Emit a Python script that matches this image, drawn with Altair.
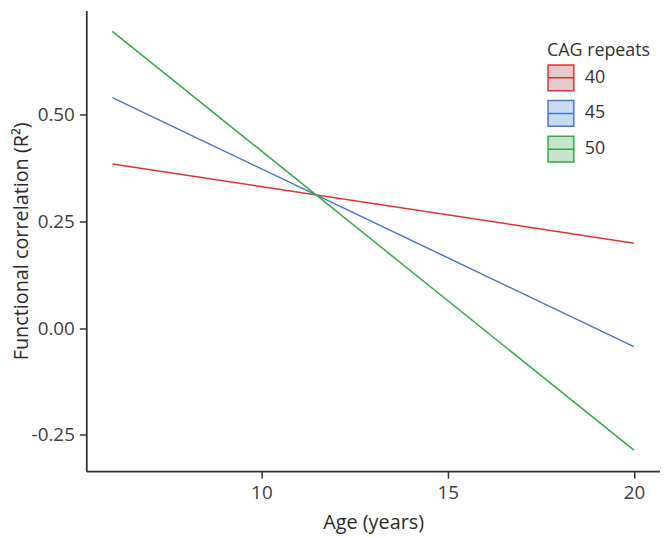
import altair as alt
import pandas as pd

# CAG repeat groups
cag = ["40", "45", "50"]
# fitted line end points
age_start = [6, 6, 6]
age_end = [20, 20, 20]
r2_start = [0.385, 0.5405, 0.696]
r2_end = [0.1995, -0.043, -0.2857]

x_ticks = [10, 15, 20]
y_ticks = [-0.25, 0.0, 0.25, 0.5]

line_colors = ["#d83535", "#4a78c6", "#35a84a"]
fill_colors = ["#e6c9cd", "#c8dcf1", "#c8e5cc"]

rows = []
for g, a0, a1, r0, r1 in zip(cag, age_start, age_end, r2_start, r2_end):
    rows.append({"cag": g, "age": a0, "r2": r0})
    rows.append({"cag": g, "age": a1, "r2": r1})
df = pd.DataFrame(rows)

FONT = "Open Sans"
legend_kw = dict(
    title="CAG repeats",
    orient="none",
    legendX=465,
    legendY=32,
    padding=0,
    symbolType="M-1,-1H1V1H-1Z M-1,0H1",
    symbolSize=676,
    symbolStrokeWidth=1.5,
    rowPadding=4,
    labelOffset=10,
    labelFontSize=18,
    labelFont=FONT,
    labelColor="#333333",
    titleFontSize=18,
    titleFont=FONT,
    titleFontWeight="normal",
    titleColor="#333333",
    titlePadding=4,
)

chart = (
    alt.Chart(df)
    .mark_line(strokeWidth=1.5)
    .encode(
        x=alt.X(
            "age:Q",
            scale=alt.Scale(domain=[5.3, 20.7], nice=False, zero=False),
            axis=alt.Axis(values=x_ticks, title="Age (years)", format="d",
                          labelPadding=6, titlePadding=10),
        ),
        y=alt.Y(
            "r2:Q",
            scale=alt.Scale(domain=[-0.335, 0.745], nice=False, zero=False),
            axis=alt.Axis(
                values=y_ticks,
                title="Functional correlation (R²)",
                labelExpr="replace(format(datum.value, '.2f'), '\u2212', '-')",
                titlePadding=0,
            ),
        ),
        stroke=alt.Stroke(
            "cag:N",
            scale=alt.Scale(domain=cag, range=line_colors),
            legend=alt.Legend(**legend_kw),
        ),
        fill=alt.Fill(
            "cag:N",
            scale=alt.Scale(domain=cag, range=fill_colors),
            legend=alt.Legend(**legend_kw),
        ),
        detail="cag:N",
    )
    .properties(
        width=579,
        height=465,
        autosize=alt.AutoSizeParams(type="none"),
        padding={"left": 79, "top": 0, "right": 0, "bottom": 66},
    )
    .configure_view(stroke=None)
    .configure_axis(
        grid=False,
        domainColor="#333333",
        domainWidth=1.8,
        tickColor="#333333",
        tickWidth=1.5,
        tickSize=7,
        labelFont=FONT,
        labelFontSize=19,
        labelColor="#404040",
        labelPadding=5,
        titleFont=FONT,
        titleFontSize=20,
        titleFontWeight="normal",
        titleColor="#2b2b2b",
    )
)

chart.save("out.html", embed_options={"renderer": "svg", "actions": False})
